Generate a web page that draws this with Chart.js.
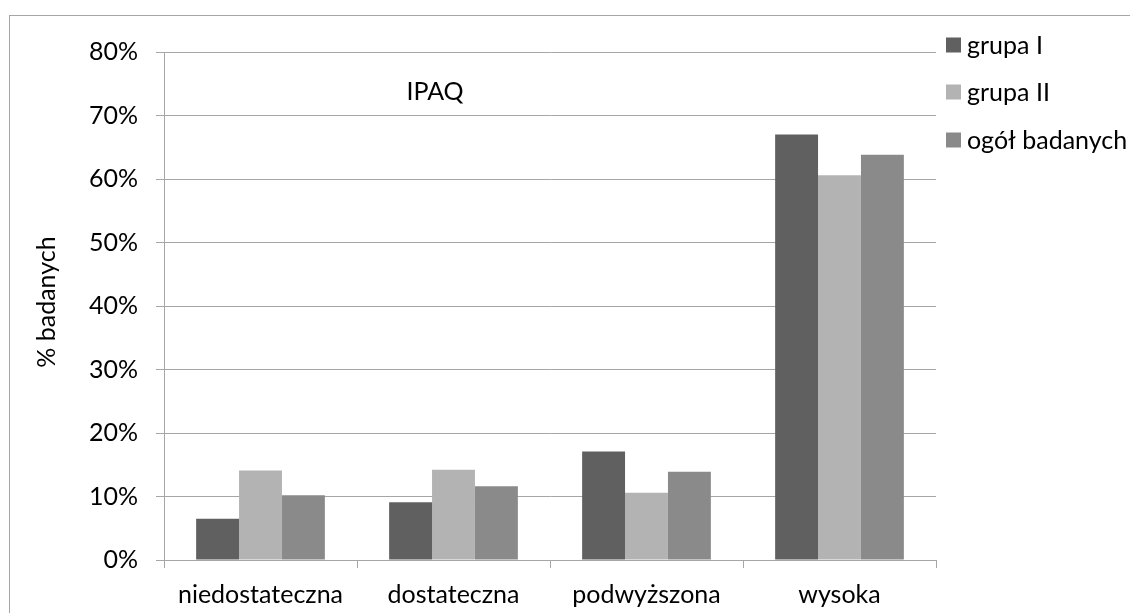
<!DOCTYPE html>
<html>
<head>
<meta charset="utf-8">
<script src="https://cdn.jsdelivr.net/npm/chart.js@4/dist/chart.umd.min.js"></script>
<style>
  html, body { margin: 0; padding: 0; background: #ffffff; }
  #wrap { width: 1130px; height: 613px; position: relative; }
</style>
</head>
<body>
<div id="wrap"><canvas id="c" width="1130" height="613"></canvas></div>
<script>
// Poziom aktywności fizycznej (IPAQ) w grupach badanych, % badanych
const categories = ['niedostateczna', 'dostateczna', 'podwyższona', 'wysoka'];
const grupaI = [6.5, 9.1, 17.1, 67.0];
const grupaII = [14.1, 14.2, 10.6, 60.6];
const ogolBadanych = [10.2, 11.6, 13.9, 63.8];
const seriesNames = ['grupa I', 'grupa II', 'ogół badanych'];
const seriesColors = ['#606060', '#b3b3b3', '#8a8a8a'];
const yTickValues = [0, 10, 20, 30, 40, 50, 60, 70, 80];
const chartTitle = 'IPAQ';
const yAxisTitle = '% badanych';

const FONT = 'Lato, "Open Sans", sans-serif';
const FONT_SIZE = 25;
const LINE = '#a6a6a6';

// frame, title, y-axis caption and legend drawn on top of the chart
const decorations = {
  id: 'decorations',
  afterDraw(chart) {
    const ctx = chart.ctx;
    ctx.save();
    // outer frame
    ctx.strokeStyle = LINE;
    ctx.lineWidth = 1;
    ctx.strokeRect(9.5, 15.5, 1300, 800);

    ctx.fillStyle = '#000000';
    ctx.font = FONT_SIZE + 'px ' + FONT;

    // title inside the plot
    ctx.textAlign = 'center';
    ctx.textBaseline = 'middle';
    ctx.fillText(chartTitle, 435, 92);

    // y-axis caption
    ctx.save();
    ctx.translate(47, 302);
    ctx.rotate(-Math.PI / 2);
    ctx.fillText(yAxisTitle, 0, 0);
    ctx.restore();

    // legend
    ctx.textAlign = 'left';
    const rowsY = [45, 92, 140];
    chart.data.datasets.forEach((ds, i) => {
      ctx.fillStyle = ds.backgroundColor;
      ctx.fillRect(946, rowsY[i] - 7.5, 15, 15);
      ctx.fillStyle = '#000000';
      ctx.fillText(ds.label, 967, rowsY[i] + 1);
    });
    ctx.restore();
  }
};

new Chart(document.getElementById('c'), {
  type: 'bar',
  data: {
    labels: categories,
    datasets: [
      { label: seriesNames[0], data: grupaI, backgroundColor: seriesColors[0] },
      { label: seriesNames[1], data: grupaII, backgroundColor: seriesColors[1] },
      { label: seriesNames[2], data: ogolBadanych, backgroundColor: seriesColors[2] }
    ]
  },
  options: {
    responsive: false,
    animation: false,
    devicePixelRatio: 1,
    layout: { padding: { top: 52, right: 194, bottom: 0, left: 0 } },
    datasets: { bar: { categoryPercentage: 0.667, barPercentage: 1.0, borderWidth: 0 } },
    plugins: {
      legend: { display: false },
      title: { display: false },
      tooltip: { enabled: false }
    },
    scales: {
      x: {
        afterFit(scale) { scale.height = 53; },
        grid: {
          offset: true,
          drawOnChartArea: false,
          drawTicks: true,
          tickLength: 8,
          color: LINE,
          lineWidth: 1
        },
        border: { display: true, color: LINE, width: 1 },
        ticks: {
          color: '#000000',
          font: { family: FONT, size: FONT_SIZE },
          padding: 12,
          maxRotation: 0,
          autoSkip: false
        }
      },
      y: {
        min: 0,
        max: 80,
        afterFit(scale) { scale.width = 164; },
        afterBuildTicks(scale) { scale.ticks = yTickValues.map(v => ({ value: v })); },
        grid: {
          drawOnChartArea: true,
          drawTicks: true,
          tickLength: 8,
          color: LINE,
          lineWidth: 1
        },
        border: { display: true, color: LINE, width: 1 },
        ticks: {
          color: '#000000',
          font: { family: FONT, size: FONT_SIZE },
          padding: 18,
          callback: v => v + '%'
        }
      }
    }
  },
  plugins: [decorations]
});
</script>
</body>
</html>
